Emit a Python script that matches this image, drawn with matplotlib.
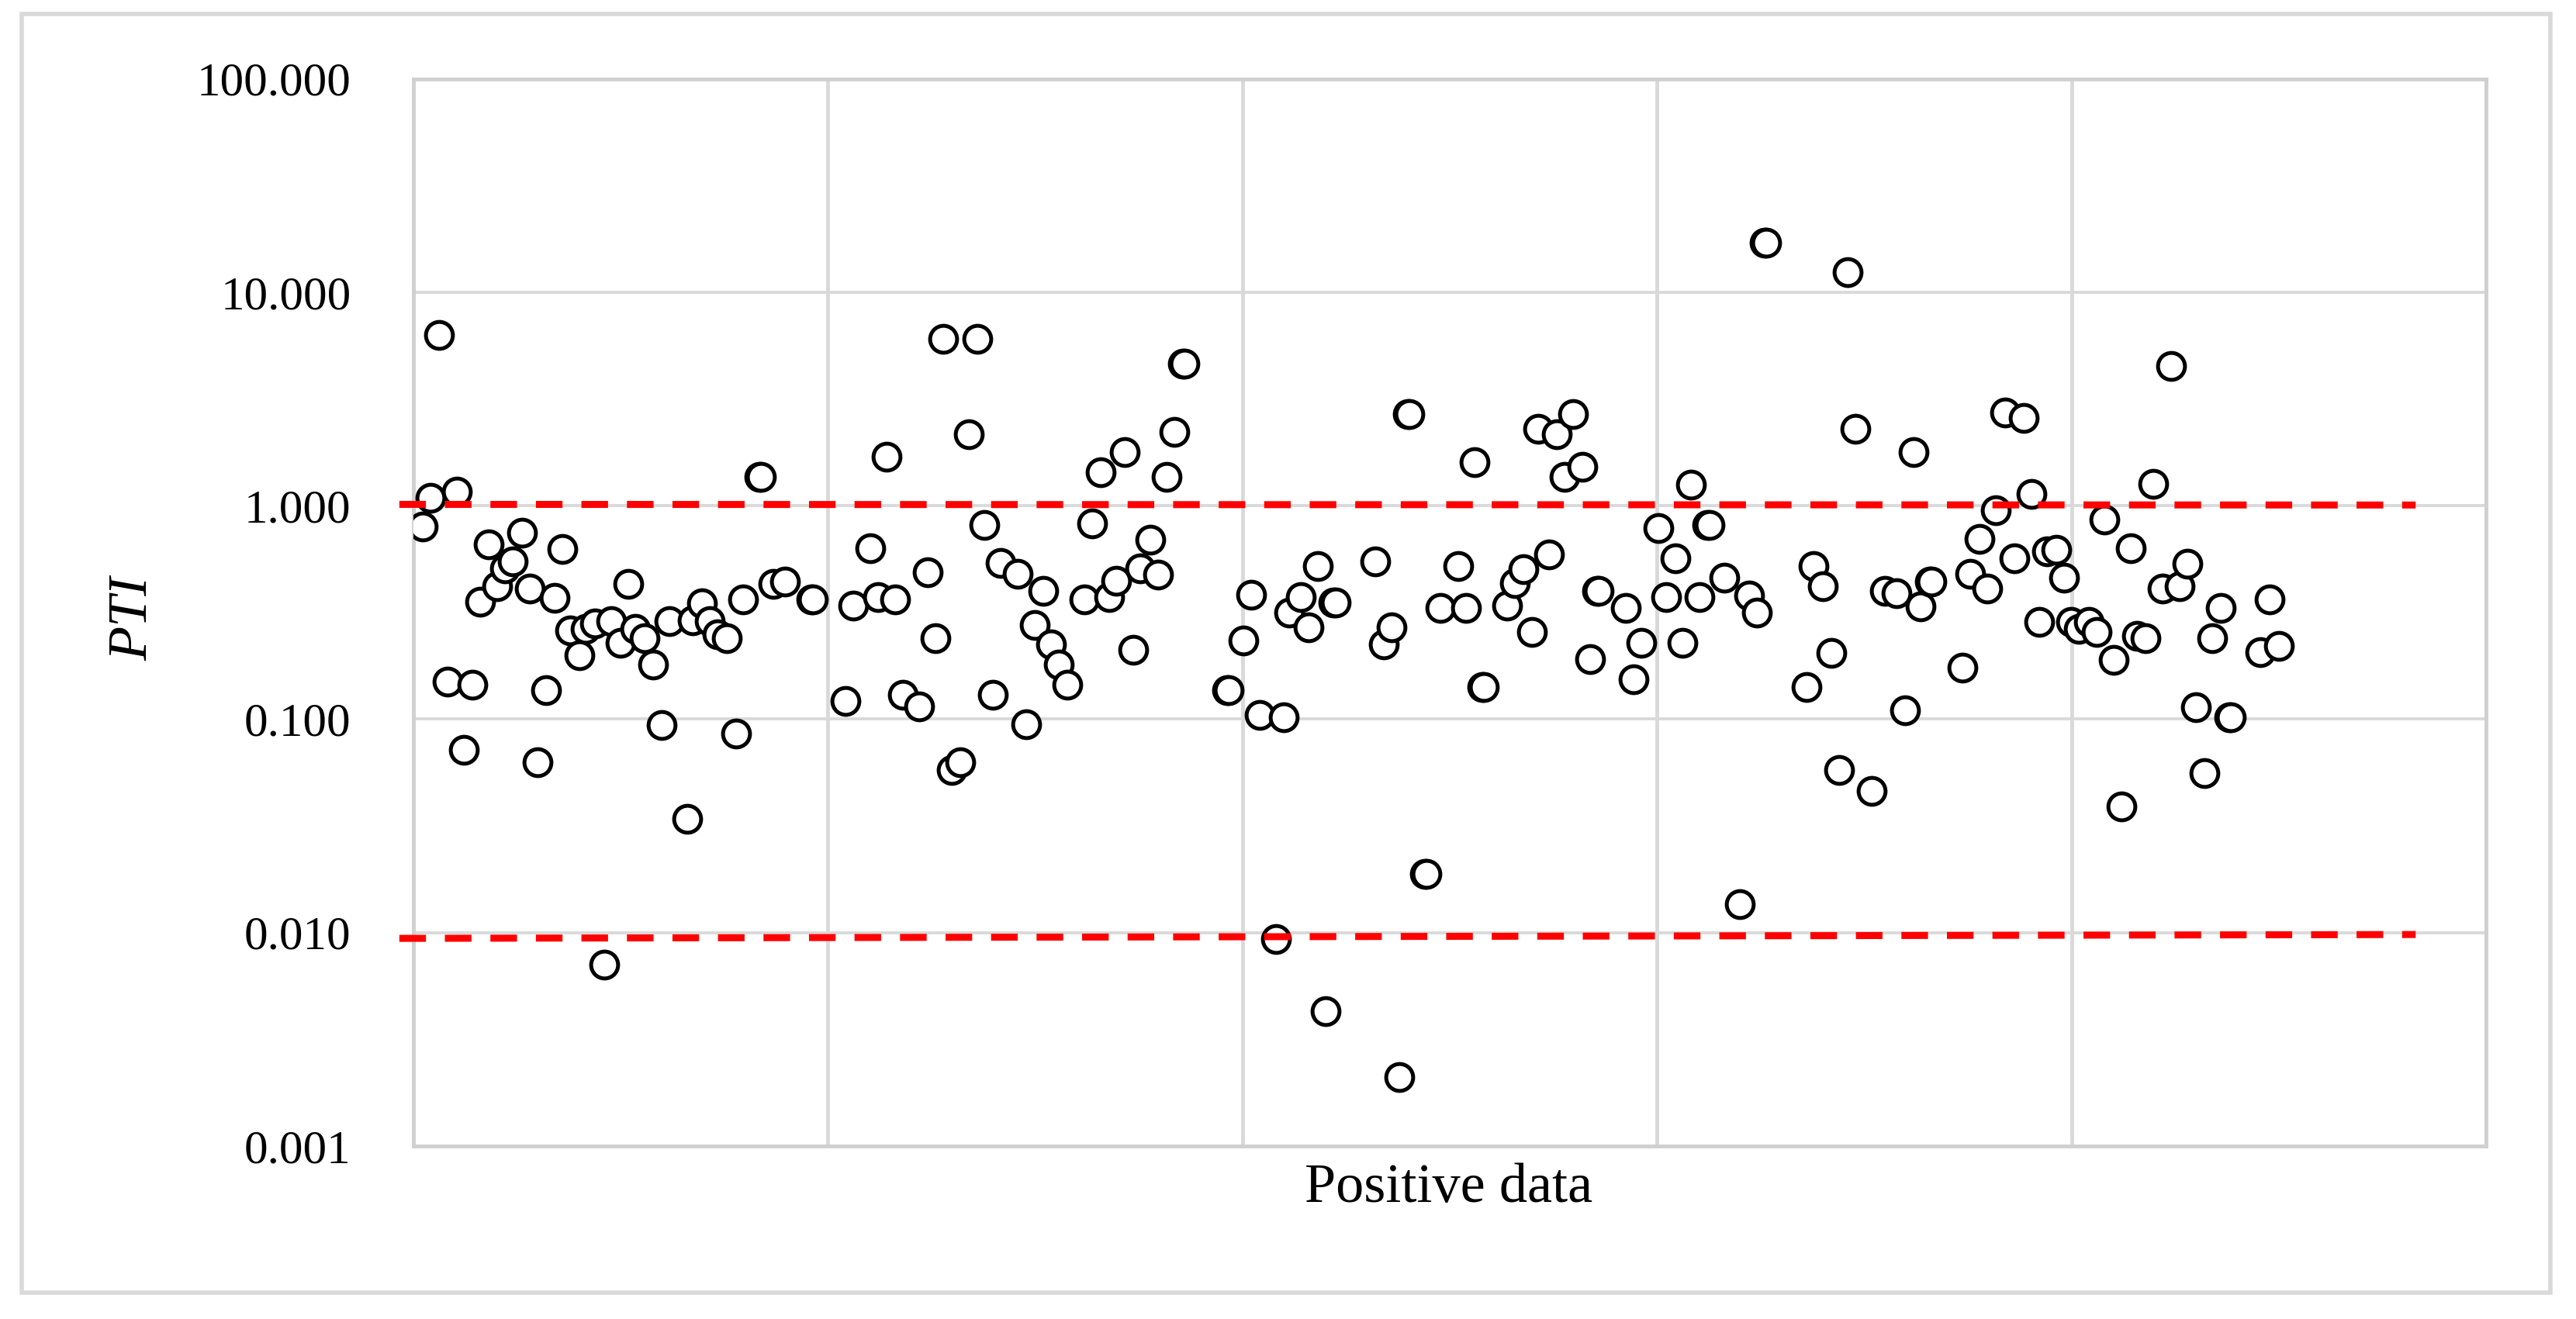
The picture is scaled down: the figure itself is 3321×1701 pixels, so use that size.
import matplotlib
matplotlib.use("Agg")
import matplotlib.pyplot as plt
from matplotlib.patches import Rectangle

# sample position along the x axis and PTI value of every point
x_pos = [
    1.1, 2.1, 3.1, 4.1, 5.2, 6.1, 7.1, 8.0, 9.1, 10.1, 11.0, 12.0, 13.1, 14.0,
    15.0, 16.0, 17.0, 18.0, 18.9, 20.0, 20.8, 21.9, 23.0, 23.9, 25.0, 25.9,
    26.8, 27.9, 28.9, 29.9, 30.9, 33.0, 33.7, 34.8, 35.7, 36.7, 37.8, 38.9,
    39.8,
    41.7, 41.9, 43.4, 44.8, 48.0, 48.2, 52.1, 53.0, 55.1, 56.0, 57.1, 58.1,
    59.0, 61.0, 62.0, 63.0, 63.9, 64.9, 66.0, 67.0, 68.0, 68.9, 69.9, 70.8,
    72.9, 73.9, 74.9, 76.0, 76.9, 77.8, 78.9,
    80.9, 81.9, 82.9, 83.9, 84.8, 85.8, 86.8, 87.7, 88.9, 89.8, 90.8, 91.8,
    92.8, 93.0, 98.1, 98.3, 100.1, 101.0, 102.1, 104.0, 105.0, 105.6, 107.0,
    108.0, 109.1, 110.0, 111.0, 111.2, 116.0, 117.0, 118.0, 118.9, 119.9,
    120.1,
    122.0, 122.2, 123.9, 126.0, 127.0, 128.0, 128.9, 129.1, 131.9, 132.9,
    133.9, 134.9, 135.7, 137.0, 137.9, 138.8, 139.9, 141.0, 141.9, 142.8,
    143.0, 146.2, 147.2, 148.1, 150.2, 151.1, 152.2, 153.1, 154.1, 155.1,
    156.1, 156.3, 158.1, 160.0,
    161.1, 162.0, 163.0, 163.2, 168.0, 168.9, 170.0, 171.0, 172.0, 173.0,
    173.9, 175.9, 177.5, 178.9, 179.9, 180.9, 181.8, 182.9, 183.1, 186.8,
    187.8, 188.9, 189.8, 190.9, 192.0, 193.1, 194.2, 195.2, 196.1, 197.0,
    198.2, 199.1, 199.9, 200.9,
    202.1, 203.0, 204.0, 205.1, 206.0, 207.1, 207.9, 208.9, 209.9, 211.0,
    212.0, 213.0, 214.0, 215.0, 216.0, 217.0, 218.0, 219.0, 219.2, 222.8,
    223.9, 225.0,
]
pti = [
    0.80, 1.09, 6.3, 0.15, 1.16, 0.072, 0.145, 0.355, 0.66, 0.42, 0.51, 0.55,
    0.75, 0.41, 0.063, 0.137, 0.37, 0.625, 0.26, 0.20, 0.265, 0.28, 0.0071,
    0.287, 0.228, 0.43, 0.265, 0.24, 0.18, 0.094, 0.287, 0.034, 0.29, 0.35,
    0.287, 0.25, 0.24, 0.086, 0.365,
    1.37, 1.37, 0.43, 0.44, 0.365, 0.365, 0.122, 0.34, 0.635, 0.373, 1.7,
    0.365, 0.13, 0.115, 0.49, 0.24, 6.07, 0.058, 0.063, 2.16, 6.07, 0.815,
    0.13, 0.54, 0.48, 0.095, 0.276, 0.40, 0.224, 0.18, 0.145,
    0.365, 0.83, 1.43, 0.373, 0.445, 1.79, 0.212, 0.51, 0.695, 0.476, 1.37,
    2.21, 4.62, 4.62, 0.137, 0.137, 0.234, 0.382, 0.105, 0.0093, 0.102,
    0.316, 0.373, 0.27, 0.52, 0.0043, 0.352, 0.352, 0.55, 0.225, 0.27,
    0.0021, 2.68, 2.68,
    0.0188, 0.0188, 0.333, 0.52, 0.333, 1.6, 0.142, 0.142, 0.34, 0.435,
    0.506, 0.256, 2.3, 0.59, 2.16, 1.37, 2.68, 1.52, 0.192, 0.40, 0.40,
    0.333, 0.154, 0.227, 0.785, 0.373, 0.567, 0.227, 1.26, 0.373, 0.815,
    0.815, 0.46, 0.0136,
    0.38, 0.316, 17.1, 17.1, 0.142, 0.52, 0.42, 0.204, 0.058, 12.4, 2.3,
    0.046, 0.40, 0.39, 0.11, 1.79, 0.338, 0.44, 0.44, 0.175, 0.48, 0.70,
    0.41, 0.95, 2.74, 0.567, 2.58, 1.14, 0.286, 0.61, 0.62, 0.46, 0.286,
    0.265,
    0.286, 0.256, 0.86, 0.19, 0.039, 0.635, 0.246, 0.24, 1.27, 0.41, 4.5,
    0.42, 0.533, 0.114, 0.056, 0.24, 0.333, 0.102, 0.102, 0.207, 0.365, 0.22,
]

# dashed threshold lines (start / end)
limit_x = [-1.7, 241.5]
upper_limit = [1.015, 1.008]
lower_limit = [0.0094, 0.0098]

y_ticks = [0.001, 0.01, 0.1, 1, 10, 100]
y_tick_labels = ["0.001", "0.010", "0.100", "1.000", "10.000", "100.000"]

plt.rcParams["font.family"] = ["Liberation Serif", "DejaVu Serif"]

fig = plt.figure(figsize=(33.21, 17.01), dpi=100)
ax = fig.add_axes([0.1605, 0.1311, 0.8046, 0.8091])

ax.plot(x_pos, pti, linestyle="none", marker="o", markersize=25,
        markerfacecolor="white", markeredgecolor="black",
        markeredgewidth=3.6, zorder=3)

for ys in (upper_limit, lower_limit):
    ax.plot(limit_x, ys, color="#ff0000", linewidth=6.5,
            dashes=(3.8, 2.7), zorder=4, clip_on=False)

ax.set_yscale("log")
ax.set_ylim(0.001, 100)
ax.set_xlim(0, 250)
ax.set_yticks(y_ticks)
ax.set_yticklabels(y_tick_labels)
ax.yaxis.set_minor_locator(matplotlib.ticker.NullLocator())
ax.set_xticks([0, 50, 100, 150, 200, 250])
ax.tick_params(axis="both", length=0, labelsize=44, pad=58)
ax.tick_params(axis="x", labelbottom=False)

ax.grid(True, axis="y", color="#d9d9d9", linewidth=2.8, zorder=0)
ax.grid(True, axis="x", color="#d9d9d9", linewidth=3.5, zorder=0)
ax.set_axisbelow(True)
for side, sp in ax.spines.items():
    sp.set_color("#d0d0d0")
    sp.set_linewidth(3.5)

fig.text(0.5625, 0.0988, "Positive data", ha="center", va="center",
         fontsize=52)
fig.text(0.0518, 0.531, "PTI", ha="center", va="center", rotation=90,
         fontsize=52, style="italic")

# outer chart border
fig.patches.append(Rectangle((28 / 3321, 1 - 1667 / 1701),
                             (3288 - 28) / 3321, (1667 - 18) / 1701,
                             transform=fig.transFigure, fill=False,
                             edgecolor="#d9d9d9", linewidth=4))

fig.savefig("out.png", dpi=100)
